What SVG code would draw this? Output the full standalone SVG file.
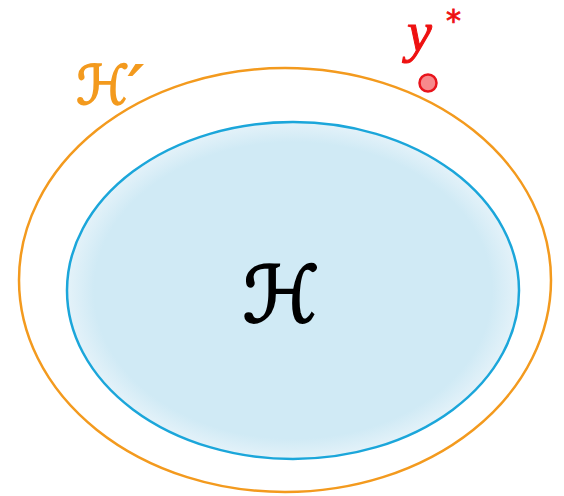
<svg xmlns="http://www.w3.org/2000/svg" width="564" height="496" viewBox="0 0 564 496">
<defs>
<radialGradient id="fillG" cx="0.5" cy="0.5" r="0.5">
<stop offset="0" stop-color="#D0EAF5"/>
<stop offset="0.88" stop-color="#D0EAF5"/>
<stop offset="1" stop-color="#E4F2F9"/>
</radialGradient>
<style>
.script{font-family:"DejaVu Sans",sans-serif;font-style:italic;}
.math{font-family:"Liberation Serif",serif;font-style:italic;}
</style>
</defs>
<rect width="564" height="496" fill="#ffffff"/>
<g id="Hprime">
<ellipse cx="285" cy="280" rx="266" ry="212" fill="none" stroke="#F39A1E" stroke-width="2.5"/>
<text x="76" y="104" class="script" font-size="54" fill="#F39A1E" stroke="#F39A1E" stroke-width="1.6">ℋ<tspan font-family="DejaVu Sans,sans-serif" stroke-width="2.2">′</tspan></text>
</g>
<g id="H">
<ellipse cx="293" cy="290.5" rx="226" ry="168.5" fill="url(#fillG)" stroke="#1BA6DA" stroke-width="2.5"/>
<text x="281" y="322" class="script" font-size="78" fill="#000000" stroke="#000000" stroke-width="2" text-anchor="middle">ℋ</text>
</g>
<g id="ystar">
<circle cx="428" cy="83" r="8.5" fill="#F7898C" stroke="#E8141C" stroke-width="2.5"/>
<text x="407" y="51" class="math" font-size="56" fill="#EE1111" stroke="#EE1111" stroke-width="1">y</text>
<text x="446" y="31" font-family="DejaVu Sans,sans-serif" font-size="30" fill="#EE1111" stroke="#EE1111" stroke-width="0.8">*</text>
</g>
</svg>
